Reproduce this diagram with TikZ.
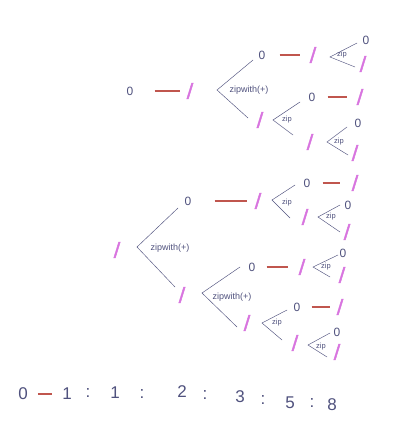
\documentclass[tikz,border=0pt]{standalone}
\usepackage{fontspec}
\setmainfont{Liberation Sans}
\newfontfamily\hlfont[FakeBold=2.5]{DejaVu Sans}
\definecolor{pen}{HTML}{50527E}
\definecolor{hl}{HTML}{D874DF}
\definecolor{rd}{HTML}{C0564E}
\tikzset{
  zero/.style={text=pen,font=\fontsize{12}{12}\selectfont,inner sep=0pt},
  one/.style={text=hl,font=\fontsize{19}{19}\hlfont,inner sep=0pt},
  lbl/.style={text=pen,font=\fontsize{7.5}{7.5}\selectfont,inner sep=0pt},
  biglbl/.style={text=pen,font=\fontsize{9}{9}\selectfont,inner sep=0pt},
  dig/.style={text=pen,font=\fontsize{17}{17}\selectfont,inner sep=0pt},
  dashl/.style={draw=rd,line width=1.2pt},
  arm/.style={draw=pen,line width=0.45pt},
}
\begin{document}
\begin{tikzpicture}[x=1pt,y=-1pt]
\useasboundingbox[fill=white] (0,0) rectangle (400,430);
% ---------- top tree
\node[zero] (z1) at (130,91) {0};
\node[one] (o1) at (190,91) {/};
\draw[dashl,shorten <=21pt,shorten >=7pt] (z1) -- (o1);
\coordinate (v1) at (217,90);
\coordinate (v1a) at (253,60);
\coordinate (v1b) at (248,118);
\draw[arm] (v1a) -- (v1) -- (v1b);
\node[biglbl] (l1) at (249,90) {zipwith(+)};
\node[zero] (z2) at (262,55) {0};
\node[one] (o2) at (313,55) {/};
\draw[dashl,shorten <=14pt,shorten >=10pt] (z2) -- (o2);
\coordinate (v2) at (330,57);
\coordinate (v2a) at (357,43);
\coordinate (v2b) at (355,67);
\draw[arm] (v2a) -- (v2) -- (v2b);
\node[lbl] (l2) at (342,55) {zip};
\node[zero] (z3) at (366,40) {0};
\node[one] (o3) at (363,64) {/};
\node[one] (o4) at (260,120) {/};
\coordinate (v3) at (273,120);
\coordinate (v3a) at (300,102);
\coordinate (v3b) at (293,135);
\draw[arm] (v3a) -- (v3) -- (v3b);
\node[lbl] (l3) at (287,120) {zip};
\node[zero] (z4) at (312,97) {0};
\node[one] (o5) at (360,97) {/};
\draw[dashl,shorten <=12pt,shorten >=10pt] (z4) -- (o5);
\node[one] (o6) at (310,142) {/};
\coordinate (v4) at (327,142);
\coordinate (v4a) at (347,127);
\coordinate (v4b) at (348,155);
\draw[arm] (v4a) -- (v4) -- (v4b);
\node[lbl] (l4) at (339,142) {zip};
\node[zero] (z5) at (358,123) {0};
\node[one] (o7) at (355,153) {/};
% ---------- bottom tree
\node[one] (o8) at (117,250) {/};
\coordinate (v5) at (137,247);
\coordinate (v5a) at (178,208);
\coordinate (v5b) at (175,287);
\draw[arm] (v5a) -- (v5) -- (v5b);
\node[biglbl] (l5) at (170,248) {zipwith(+)};
\node[zero] (z6) at (188,201) {0};
\node[one] (o9) at (258,201) {/};
\draw[dashl,shorten <=23pt,shorten >=8pt] (z6) -- (o9);
\coordinate (v6) at (272,200);
\coordinate (v6a) at (295,185);
\coordinate (v6b) at (290,218);
\draw[arm] (v6a) -- (v6) -- (v6b);
\node[lbl] (l6) at (287,203) {zip};
\node[zero] (z7) at (307,183) {0};
\node[one] (o10) at (355,183) {/};
\draw[dashl,shorten <=12pt,shorten >=12pt] (z7) -- (o10);
\node[one] (o11) at (305,217) {/};
\coordinate (v7) at (318,217);
\coordinate (v7a) at (340,205);
\coordinate (v7b) at (340,232);
\draw[arm] (v7a) -- (v7) -- (v7b);
\node[lbl] (l7) at (331,217) {zip};
\node[zero] (z8) at (348,205) {0};
\node[one] (o12) at (347,232) {/};
\node[one] (o13) at (182,295) {/};
\coordinate (v8) at (202,293);
\coordinate (v8a) at (240,267);
\coordinate (v8b) at (237,327);
\draw[arm] (v8a) -- (v8) -- (v8b);
\node[biglbl] (l8) at (232,297) {zipwith(+)};
\node[zero] (z9) at (252,267) {0};
\node[one] (o14) at (302,267) {/};
\draw[dashl,shorten <=11pt,shorten >=11pt] (z9) -- (o14);
\coordinate (v9) at (313,267);
\coordinate (v9a) at (338,255);
\coordinate (v9b) at (330,277);
\draw[arm] (v9a) -- (v9) -- (v9b);
\node[lbl] (l9) at (326,267) {zip};
\node[zero] (z10) at (343,253) {0};
\node[one] (o15) at (342,275) {/};
\node[one] (o16) at (247,323) {/};
\coordinate (v10) at (262,323);
\coordinate (v10a) at (287,310);
\coordinate (v10b) at (282,340);
\draw[arm] (v10a) -- (v10) -- (v10b);
\node[lbl] (l10) at (277,323) {zip};
\node[zero] (z11) at (297,307) {0};
\node[one] (o17) at (340,307) {/};
\draw[dashl,shorten <=11pt,shorten >=7pt] (z11) -- (o17);
\node[one] (o18) at (295,343) {/};
\coordinate (v11) at (308,345);
\coordinate (v11a) at (330,333);
\coordinate (v11b) at (327,357);
\draw[arm] (v11a) -- (v11) -- (v11b);
\node[lbl] (l11) at (321,347) {zip};
\node[zero] (z12) at (337,332) {0};
\node[one] (o19) at (337,352) {/};
% ---------- result row
\node[dig] (r0) at (23,394) {0};
\node[dig] (r1) at (67,394) {1};
\draw[dashl,shorten <=10pt,shorten >=10pt] (r0) -- (r1);
\node[dig] (c1) at (88,393) {:};
\node[dig] (r2) at (115,393) {1};
\node[dig] (c2) at (142,394) {:};
\node[dig] (r3) at (182,392) {2};
\node[dig] (c3) at (205,395) {:};
\node[dig] (r4) at (240,397) {3};
\node[dig] (c4) at (263,400) {:};
\node[dig] (r5) at (290,403) {5};
\node[dig] (c5) at (312,403) {:};
\node[dig] (r6) at (332,405) {8};
\end{tikzpicture}
\end{document}
